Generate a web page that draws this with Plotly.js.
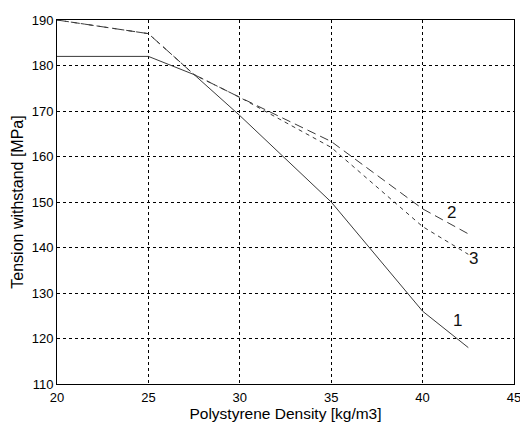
<!DOCTYPE html>
<html>
<head>
<meta charset="utf-8">
<script src="https://cdn.plot.ly/plotly-3.0.1.min.js"></script>
<style>html,body{margin:0;padding:0;background:#fff}#chart{width:520px;height:423px}</style>
</head>
<body>
<div id="chart"></div>
<script>
const density = [20, 25, 27.5, 30, 35, 40, 42.5];
const curve1 = [182, 182, 178, 169, 150, 126, 118];
const curve2 = [190, 187, 178, 173, 163.3, 148.5, 143];
const curve3 = [190, 187, 178, 173, 162, 144.6, 138.5];
const xTicks = [20, 25, 30, 35, 40, 45];
const yTicks = [110, 120, 130, 140, 150, 160, 170, 180, 190];
const curveLabels = ["1", "2", "3"];
const labelX = [41.9, 41.6, 42.8];
const labelY = [124, 147.6, 137.5];

const font = "Liberation Sans, Arial, sans-serif";
const traces = [
  {x: density, y: curve1, mode: "lines", line: {color: "#3a3a3a", width: 1, dash: "solid"}},
  {x: density, y: curve2, mode: "lines", line: {color: "#3a3a3a", width: 1, dash: "9px,5px"}},
  {x: density, y: curve3, mode: "lines", line: {color: "#3a3a3a", width: 1, dash: "4px,4px"}}
];
const annotations = curveLabels.map((t, i) => ({
  x: labelX[i], y: labelY[i], xref: "x", yref: "y", text: t, showarrow: false,
  font: {family: font, size: 17, color: "#111"}
}));
const layout = {
  width: 520, height: 423,
  margin: {l: 57, r: 6, t: 20, b: 39},
  paper_bgcolor: "#fff", plot_bgcolor: "#fff",
  showlegend: false,
  font: {family: font, size: 13, color: "#000"},
  xaxis: {
    range: [20, 45], tickvals: xTicks, ticktext: xTicks.map(String), ticklabeloverflow: "allow",
    showgrid: true, gridcolor: "#000", griddash: "3px,3px", gridwidth: 1,
    showline: true, linecolor: "#000", linewidth: 1, mirror: true, zeroline: false,
    ticks: "", ticklabelstandoff: 1,
    title: {text: "Polystyrene Density [kg/m3]", font: {family: font, size: 15.5}, standoff: 3}
  },
  yaxis: {
    range: [110, 190], tickvals: yTicks, ticktext: yTicks.map(String),
    showgrid: true, gridcolor: "#000", griddash: "3px,3px", gridwidth: 1,
    showline: true, linecolor: "#000", linewidth: 1, mirror: true, zeroline: false,
    ticks: "",
    title: {text: "Tension withstand [MPa]", font: {family: font, size: 16}, standoff: 4}
  },
  annotations: annotations
};
Plotly.newPlot("chart", traces, layout, {displayModeBar: false, staticPlot: true});
</script>
</body>
</html>
